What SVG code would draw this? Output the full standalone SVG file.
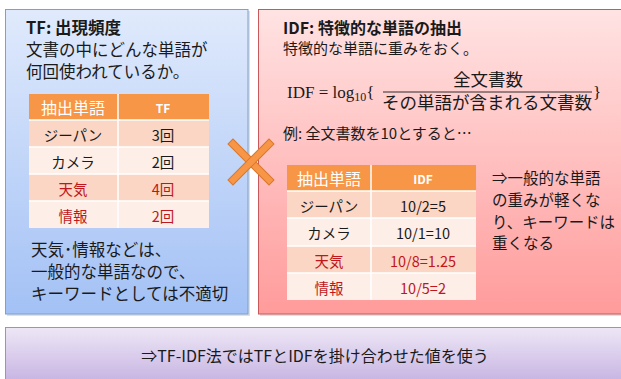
<svg xmlns="http://www.w3.org/2000/svg" width="621" height="379" viewBox="0 0 621 379">
<defs>
<linearGradient id="gBlue" x1="0" y1="0" x2="0" y2="1"><stop offset="0" stop-color="#e0eafc"/><stop offset="1" stop-color="#a3c1f5"/></linearGradient>
<linearGradient id="gPink" x1="0" y1="0" x2="0" y2="1"><stop offset="0" stop-color="#ffe3e3"/><stop offset="1" stop-color="#ff9b9b"/></linearGradient>
<linearGradient id="gPurple" x1="0" y1="0" x2="0" y2="1"><stop offset="0" stop-color="#eee7f6"/><stop offset="1" stop-color="#c6b3e2"/></linearGradient>
<style>
text{font-family:"Noto Sans CJK JP","Noto Sans",sans-serif;fill:#1a1a1a}
.t17{font-size:16.5px}
.t15{font-size:15px}
.tr{font-size:15.5px}
.b{font-weight:bold}
.c{text-anchor:middle;dominant-baseline:central}
.hd{fill:#ffffff}
.red{fill:#c0161c}
.cell{font-size:14.5px}
.shd{fill:#000;opacity:0.12}
.r1{fill:#fcd6c4}
.r2{fill:#fdeee8}
.hdr{fill:#f79646}
.grid{stroke:#ffffff;stroke-width:1.5;fill:none}
.serif{font-family:"Liberation Serif","DejaVu Serif",serif}
</style>
</defs>

<g id="tf-box">
<rect class="shd" x="7" y="11" width="243" height="305"/>
<rect x="5.5" y="9.5" width="242.5" height="304.5" fill="url(#gBlue)" stroke="#7b9fd6" stroke-width="1"/>
<text class="b" x="26" y="34" font-size="16.5">TF: 出現頻度</text>
<text class="t17" x="26" y="56">文書の中にどんな単語が</text>
<text class="t17" x="26" y="78">何回使われているか。</text>
<g id="tf-table">
<rect class="hdr" x="29" y="94" width="180" height="26"/>
<rect class="r1" x="29" y="120" width="180" height="27"/>
<rect class="r2" x="29" y="147" width="180" height="27"/>
<rect class="r1" x="29" y="174" width="180" height="27"/>
<rect class="r2" x="29" y="201" width="180" height="27"/>
<path class="grid" d="M118 94V228M29 120H209M29 147H209M29 174H209M29 201H209"/>
<text class="c hd" x="73" y="107" font-size="16">抽出単語</text>
<text class="c hd b" x="163" y="107" font-size="12">TF</text>
<text class="c cell" x="73" y="134">ジーパン</text>
<text class="c cell" x="163" y="134">3回</text>
<text class="c cell" x="73" y="161">カメラ</text>
<text class="c cell" x="163" y="161">2回</text>
<text class="c cell red" x="73" y="188">天気</text>
<text class="c cell red" x="163" y="188">4回</text>
<text class="c cell red" x="73" y="215">情報</text>
<text class="c cell red" x="163" y="215">2回</text>
</g>
<text x="31" y="256" font-size="16.5">天気･情報などは、</text>
<text x="31" y="278" font-size="16.5">一般的な単語なので、</text>
<text x="31" y="300" font-size="16.5">キーワードとしては不適切</text>
</g>

<g id="idf-box">
<rect class="shd" x="260" y="11" width="361" height="305"/>
<rect x="258.5" y="9.5" width="365" height="304.5" fill="url(#gPink)" stroke="#c9585a" stroke-width="1"/>
<text class="b" x="283" y="34" font-size="16">IDF: 特徴的な単語の抽出</text>
<text class="t15" x="283" y="54">特徴的な単語に重みをおく。</text>
<g id="formula">
<text class="serif" x="287" y="98" font-size="17">IDF = log<tspan font-size="12" dy="3">10</tspan><tspan dy="-3">{</tspan></text>
<text x="488" y="86" text-anchor="middle" font-size="17.5">全文書数</text>
<line x1="383" y1="92" x2="592" y2="92" stroke="#1a1a1a" stroke-width="0.9"/>
<text x="487" y="109" text-anchor="middle" font-size="17.5">その単語が含まれる文書数</text>
<text class="serif" x="593" y="98" font-size="17">}</text>
</g>
<text class="t15" x="283" y="139">例: 全文書数を10とすると…</text>
<g id="idf-table">
<rect class="hdr" x="287" y="165" width="189" height="26"/>
<rect class="r1" x="287" y="191" width="189" height="27"/>
<rect class="r2" x="287" y="218" width="189" height="28"/>
<rect class="r1" x="287" y="246" width="189" height="27"/>
<rect class="r2" x="287" y="273" width="189" height="27"/>
<path class="grid" d="M371 165V300M287 191H476M287 218H476M287 246H476M287 273H476"/>
<text class="c hd" x="329" y="178" font-size="16">抽出単語</text>
<text class="c hd b" x="423" y="178" font-size="12">IDF</text>
<text class="c cell" x="329" y="205">ジーパン</text>
<text class="c cell" x="423" y="205">10/2=5</text>
<text class="c cell" x="329" y="232">カメラ</text>
<text class="c cell" x="423" y="232">10/1=10</text>
<text class="c cell red" x="329" y="260">天気</text>
<text class="c cell red" x="423" y="260">10/8=1.25</text>
<text class="c cell red" x="329" y="287">情報</text>
<text class="c cell red" x="423" y="287">10/5=2</text>
</g>
<text class="tr" x="492" y="184">⇒一般的な単語</text>
<text class="tr" x="492" y="206">の重みが軽くな</text>
<text class="tr" x="492" y="228" textLength="123" lengthAdjust="spacingAndGlyphs">り、キーワードは</text>
<text class="tr" x="492" y="249">重くなる</text>
</g>

<g id="cross">
<g transform="translate(251,162) rotate(45)" fill="#f79646" stroke="#d9782e" stroke-width="1">
<rect x="-29" y="-3.5" width="58" height="7"/>
<rect x="-3.5" y="-29" width="7" height="58"/>
<rect x="-3" y="-3" width="6" height="6" stroke="none"/>
</g>
</g>

<g id="summary-box">
<rect x="5.5" y="327.5" width="618" height="55" fill="url(#gPurple)" stroke="#a28ccb" stroke-width="1"/>
<text x="315" y="355" class="c" font-size="16">⇒TF-IDF法ではTFとIDFを掛け合わせた値を使う</text>
</g>

<g id="connectors"></g>
</svg>
